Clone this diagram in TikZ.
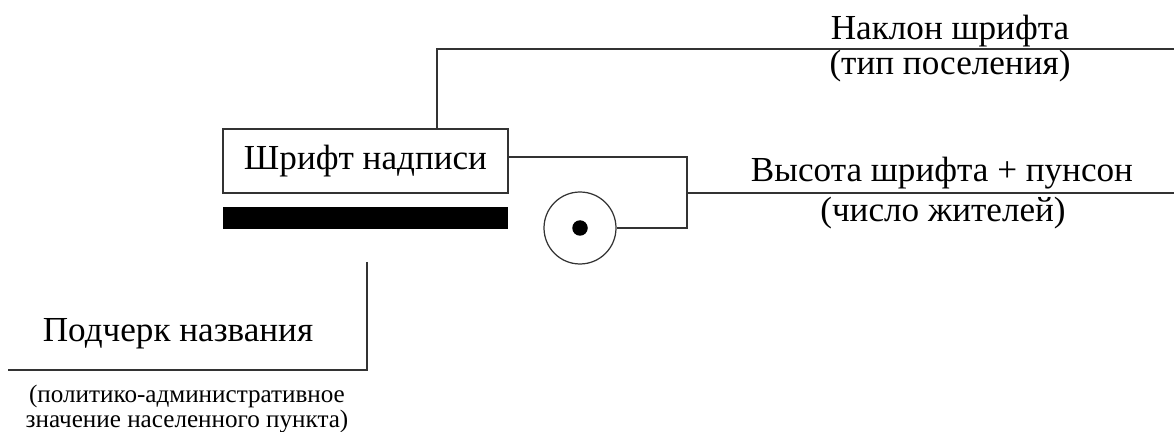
\documentclass[tikz,border=0pt]{standalone}
\usepackage{fontspec}
\setmainfont{Liberation Serif}
\begin{document}
\begin{tikzpicture}[x=0.02cm,y=-0.02cm,
  ln/.style={draw=black!80,line width=0.7pt},
  lbl/.style={inner sep=0pt,font=\fontsize{20}{24}\selectfont},
  sml/.style={inner sep=0pt,font=\fontsize{14.3}{14.7}\selectfont,align=center},
  boxnode/.style={draw=black!80,line width=0.7pt,minimum width=5.7cm,minimum height=1.28cm,inner sep=0pt,font=\fontsize{20}{24}\selectfont},
  barnode/.style={fill=black,minimum width=5.7cm,minimum height=0.44cm,inner sep=0pt},
  ring/.style={circle,draw=black!80,line width=0.7pt,minimum size=1.44cm,inner sep=0pt},
  dotnode/.style={circle,fill=black,minimum size=0.31cm,inner sep=0pt}]
\useasboundingbox (0,0) rectangle (1174,432);
\node[boxnode] (font) at (365.5,161) {Шрифт надписи};
\node[barnode] (bar) at (365.5,218) {};
\node[ring] (ring) at (580,228) {};
\node[dotnode] (dot) at (580,228) {};
\coordinate (j1) at (687,157);
\coordinate (j2) at (687,228);
\coordinate (j3) at (687,193);
\coordinate (e3) at (1174,193);
\coordinate (t1) at (437,49);
\coordinate (t2) at (1174,49);
\coordinate (b1) at (367,262);
\coordinate (b2) at (367,370);
\coordinate (b3) at (8,370);
\draw[ln] (font.east |- j1) -- (j1) -- (j2) -- (ring.east);
\draw[ln] (j3) -- (e3);
\draw[ln] (font.north -| t1) -- (t1) -- (t2);
\draw[ln] (b1) -- (b2) -- (b3);
\node[lbl] (n1) at (950,31) {Наклон шрифта};
\node[lbl] (n2) at (950,66) {(тип поселения)};
\node[lbl] (v1) at (942,173) {Высота шрифта + пунсон};
\node[lbl] (v2) at (943,213) {(число жителей)};
\node[lbl] (p1) at (178,334) {Подчерк названия};
\node[sml] (p2) at (187,409) {(политико-административное\\значение населенного пункта)};
\end{tikzpicture}
\end{document}
